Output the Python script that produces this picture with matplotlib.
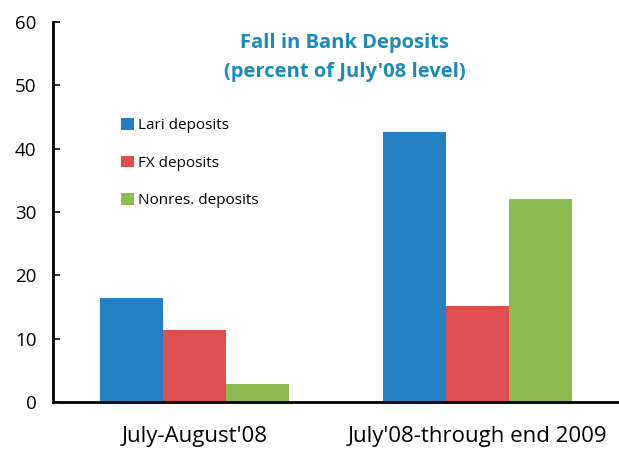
import matplotlib
matplotlib.use("Agg")
import matplotlib.pyplot as plt
import numpy as np

plt.rcParams['font.family'] = ['Open Sans', 'DejaVu Sans']

categories = ["July-August'08", "July'08-through end 2009"]
series_names = ["Lari deposits", "FX deposits", "Nonres. deposits"]
lari = [16.4, 42.6]
fx = [11.4, 15.2]
nonres = [2.8, 32.0]
colors = ["#2380C2", "#DC4F4E", "#8DBB50"]
yticks = [0, 10, 20, 30, 40, 50, 60]

fig = plt.figure(figsize=(6.19, 4.51), dpi=100)
ax = fig.add_axes([0.0856, 0.1086, 0.9144, 0.8425])

x = np.arange(len(categories))
w = 0.222
for i, (vals, name, c) in enumerate(zip([lari, fx, nonres], series_names, colors)):
    ax.bar(x + (i - 1) * w, vals, width=w, color=c, label=name, edgecolor='none')

ax.set_xlim(-0.5, 1.5)
ax.set_ylim(0, 60)
ax.set_yticks(yticks)
ax.set_xticks(x)
ax.set_xticklabels(categories, fontsize=16)
ax.tick_params(axis='x', length=0, pad=17)
ax.tick_params(axis='y', direction='in', length=5, width=1.2, labelsize=13.5, pad=12)
for s in ['top', 'right']:
    ax.spines[s].set_visible(False)
ax.spines['left'].set_linewidth(2)
ax.spines['bottom'].set_linewidth(2)

ax.text(0.515, 0.972, "Fall in Bank Deposits\n(percent of July'08 level)",
        transform=ax.transAxes, ha='center', va='top', fontsize=14.5,
        fontweight='bold', color='#1A8AB8', linespacing=1.6)

leg = ax.legend(loc='upper left', bbox_to_anchor=(0.11, 0.763), frameon=False,
                fontsize=11, handlelength=0.8, handleheight=0.8,
                handletextpad=0.3, labelspacing=1.45, borderaxespad=0)

fig.savefig("out.png", dpi=100)
